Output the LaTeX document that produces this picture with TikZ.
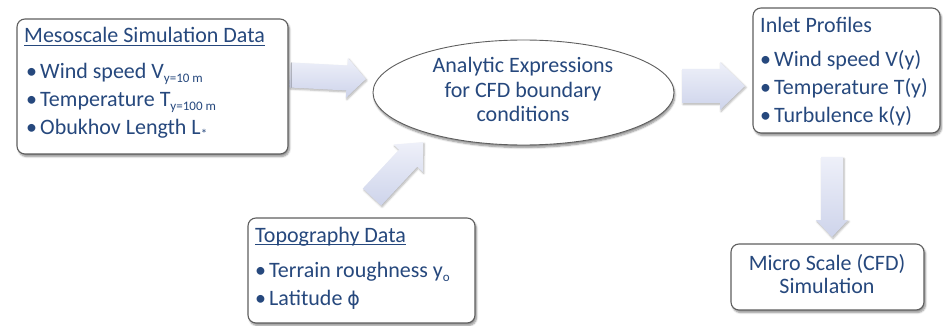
\documentclass[tikz,border=0pt]{standalone}
\usepackage{fontspec}
\setmainfont{Carlito}
\newfontfamily\djv{DejaVu Sans}
\usetikzlibrary{shadows.blur,shapes.geometric}
\definecolor{txt}{RGB}{38,72,125}
\definecolor{bord}{RGB}{95,95,95}
\definecolor{arrA}{RGB}{238,240,249}
\definecolor{arrB}{RGB}{206,212,235}
\tikzset{
 box/.style={draw=bord, line width=1.1pt, rounded corners=8pt, fill=white, inner sep=0pt,
   blur shadow={shadow xshift=1.5pt, shadow yshift=-2.5pt, shadow blur steps=6, shadow opacity=45}},
 ln/.style={anchor=base west, inner sep=0pt, text=txt, font=\fontsize{22}{24}\selectfont},
 cln/.style={ln, anchor=base},
 uline/.style={txt, line width=0.8pt},
 arrowbody/.style={top color=arrA, bottom color=arrB, draw=none,
   blur shadow={shadow xshift=1pt, shadow yshift=-1.5pt, shadow opacity=30, shadow blur steps=5}},
}
\newcommand\sbs[1]{{\fontsize{13}{13}\selectfont\raisebox{-4pt}{#1}}}
\newcommand\blt{\makebox[14pt][l]{•}}
\newcommand\blockarrow[6]{%
 \begin{scope}[shift={(#1)}, rotate=#2]
 \path[arrowbody] (0,-#4) -- ({#3-#6},-#4) -- ({#3-#6},-#5) -- (#3,0) -- ({#3-#6},#5) -- ({#3-#6},#4) -- (0,#4) -- cycle;
 \end{scope}}
\begin{document}
\begin{tikzpicture}[x=1pt,y=-1pt]
\useasboundingbox (0,0) rectangle (943,326);
% block arrows
\blockarrow{290,75}{-3}{76}{12.5}{20}{19}
\blockarrow{682,86}{0}{63}{17}{24}{25}
\blockarrow{372,197}{47}{75}{12.5}{20}{22}
\blockarrow{832,157}{-90}{80}{11}{16}{17}
% boxes
\node[box, minimum width=271pt, minimum height=135pt] (meso) at (152.5,86.5) {};
\node[box, minimum width=187pt, minimum height=125pt] (inlet) at (846.5,70.5) {};
\node[box, minimum width=227pt, minimum height=105pt] (topo) at (361.5,270.5) {};
\node[box, minimum width=193pt, minimum height=66pt] (micro) at (827.5,277) {};
\node[ellipse, draw=bord, line width=0.9pt, fill=white, inner sep=0pt,
  minimum width=301pt, minimum height=105pt,
  blur shadow={shadow xshift=1pt, shadow yshift=-2.5pt, shadow blur steps=6, shadow opacity=45}] (expr) at (523.5,92.5) {};
% mesoscale text
\node[ln] (mt) at (24,43) {Mesoscale Simulation Data};
\draw[uline] ([yshift=-2.7pt]mt.base west) -- ([yshift=-2.7pt]mt.base east);
\node[ln] (m1) at (26,79) {\blt Wind speed V\sbs{y=10 m}};
\node[ln] (m2) at (26,107) {\blt Temperature T\sbs{y=100 m}};
\node[ln] (m3) at (26,135) {\blt Obukhov Length L\sbs{*}};
% ellipse text
\node[cln] (e1) at (523,73) {Analytic Expressions};
\node[cln] (e2) at (523,98) {for CFD boundary};
\node[cln] (e3) at (523,122) {conditions};
% inlet text
\node[ln] (it) at (760,33) {Inlet Profiles};
\node[ln] (i1) at (760,67) {\blt Wind speed V(y)};
\node[ln] (i2) at (760,95) {\blt Temperature T(y)};
\node[ln] (i3) at (760,123) {\blt Turbulence k(y)};
% topography text
\node[ln] (tt) at (255,242) {Topography Data};
\draw[uline] ([yshift=-2.7pt]tt.base west) -- ([yshift=-2.7pt]tt.base east);
\node[ln] (t1) at (255,277) {\blt Terrain roughness y\sbs{o}};
\node[ln] (t2) at (255,305) {\blt Latitude {\djv\fontsize{19}{22}\selectfont ϕ}};
% micro text
\node[cln] (c1) at (827,270) {Micro Scale (CFD)};
\node[cln] (c2) at (827,293) {Simulation};
\end{tikzpicture}
\end{document}
